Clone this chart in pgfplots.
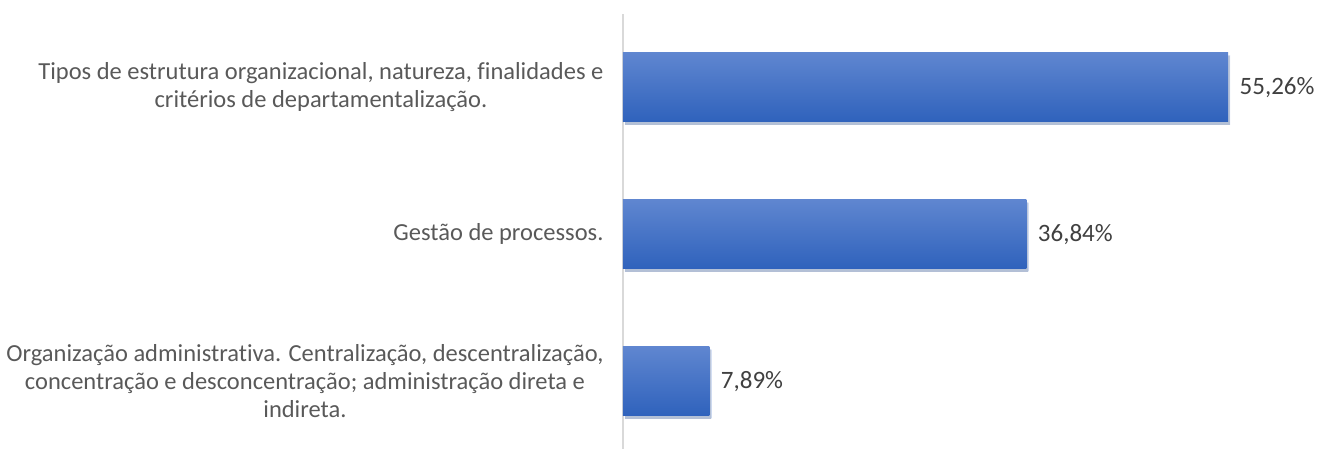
\documentclass[border=0pt]{standalone}
\usepackage{pgfplots}
\pgfplotsset{compat=1.18}
\usepackage{fontspec}
\setmainfont{Carlito}[Ligatures=NoCommon]
\usetikzlibrary{shadows}
\definecolor{lbl}{HTML}{595959}
\definecolor{val}{HTML}{404040}
\definecolor{bartop}{HTML}{5F86D0}
\definecolor{barbot}{HTML}{2F62BC}
\definecolor{axl}{HTML}{D9D9D9}
\begin{document}
\begin{tikzpicture}
\begin{axis}[
  name=ax, at={(0,0)}, anchor=south west,
  scale only axis, width=696pt, height=435pt,
  xbar, bar width=69pt, bar shift=0pt,
  xmin=0, xmax=63.56, ymin=-0.46, ymax=2.5,
  axis x line=none,
  axis y line=left,
  y axis line style={-, draw=axl, line width=1.5pt},
  ytick={0,1,2},
  yticklabels={{Organização administrativa. Centralização, descentralização,\\concentração e desconcentração; administração direta e\\indireta.},{Gestão de processos.},{Tipos de estrutura organizacional, natureza, finalidades e\\critérios de departamentalização.}},
  yticklabel style={align=center, font=\fontsize{24.5}{28}\selectfont, text=lbl, xshift=-16pt},
  ytick style={draw=none},
  major tick length=0pt,
  clip=false,
  point meta=x,
  /pgf/number format/assume math mode=true,
  nodes near coords={\pgfmathprintnumber[fixed,fixed zerofill,precision=2,use comma]{\pgfplotspointmeta}\%},
  nodes near coords style={font=\fontsize{25}{28}\selectfont, text=val, anchor=west, xshift=8pt},
  barsty/.style={draw=none, top color=bartop, bottom color=barbot, drop shadow={shadow xshift=2pt, shadow yshift=-3pt, opacity=0.25}},
]
\addplot[barsty] coordinates {(7.89,0)};
\addplot[barsty] coordinates {(36.84,1)};
\addplot[barsty] coordinates {(55.26,2)};
\end{axis}
\pgfresetboundingbox
\path (-623pt,0pt) rectangle (696pt,449pt);
\end{tikzpicture}
\end{document}
